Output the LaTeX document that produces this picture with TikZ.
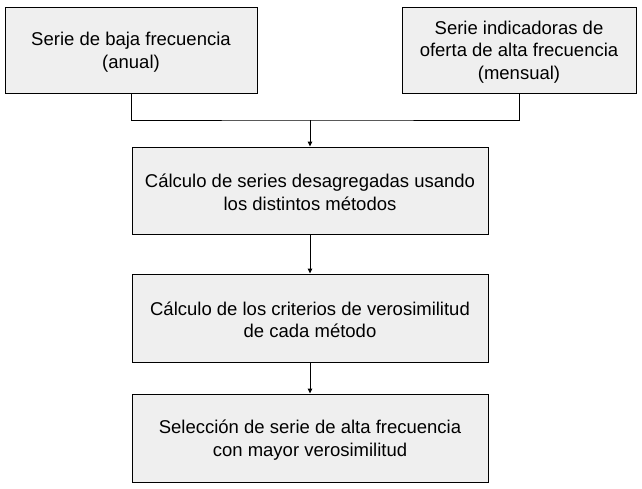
\documentclass[tikz,border=0pt]{standalone}
\usepackage{fontspec}
\setmainfont{Liberation Sans}
\usetikzlibrary{arrows.meta}
\begin{document}
\begin{tikzpicture}[x=1pt,y=1pt,
  box/.style={draw=black,line width=1pt,fill=boxgray,inner sep=0pt},
  boxtext/.style={align=center,inner sep=0pt,yshift=-2pt,
    font=\fontsize{18.5}{22.5}\selectfont},
  conn/.style={draw=black,line width=1pt},
  arr/.style={conn,-{Triangle[width=4.5pt,length=5pt]}}]
\definecolor{boxgray}{HTML}{EFEFEF}
\useasboundingbox (0,0) rectangle (642,-488);
\node[box,minimum width=252,minimum height=86,
  label={[boxtext]center:{Serie de baja frecuencia\\(anual)}}] (b1) at (131,-50) {};
\node[box,minimum width=234,minimum height=86,
  label={[boxtext]center:{Serie indicadoras de\\oferta de alta frecuencia\\(mensual)}}] (b2) at (519,-50) {};
\node[box,minimum width=356,minimum height=87,
  label={[boxtext]center:{Cálculo de series desagregadas usando\\los distintos métodos}}] (b3) at (310,-190.5) {};
\node[box,minimum width=356,minimum height=88,
  label={[boxtext]center:{Cálculo de los criterios de verosimilitud\\de cada método}}] (b4) at (310,-318) {};
\node[box,minimum width=356,minimum height=88,
  label={[boxtext]center:{Selección de serie de alta frecuencia\\con mayor verosimilitud}}] (b5) at (310,-438) {};
\coordinate (m) at (310,-120);
\draw[conn] (b1.south) |- (m) -| (b2.south);
\draw[arr] (m) -- (b3.north);
\draw[arr] (b3.south) -- (b4.north);
\draw[arr] (b4.south) -- (b5.north);
\end{tikzpicture}
\end{document}
